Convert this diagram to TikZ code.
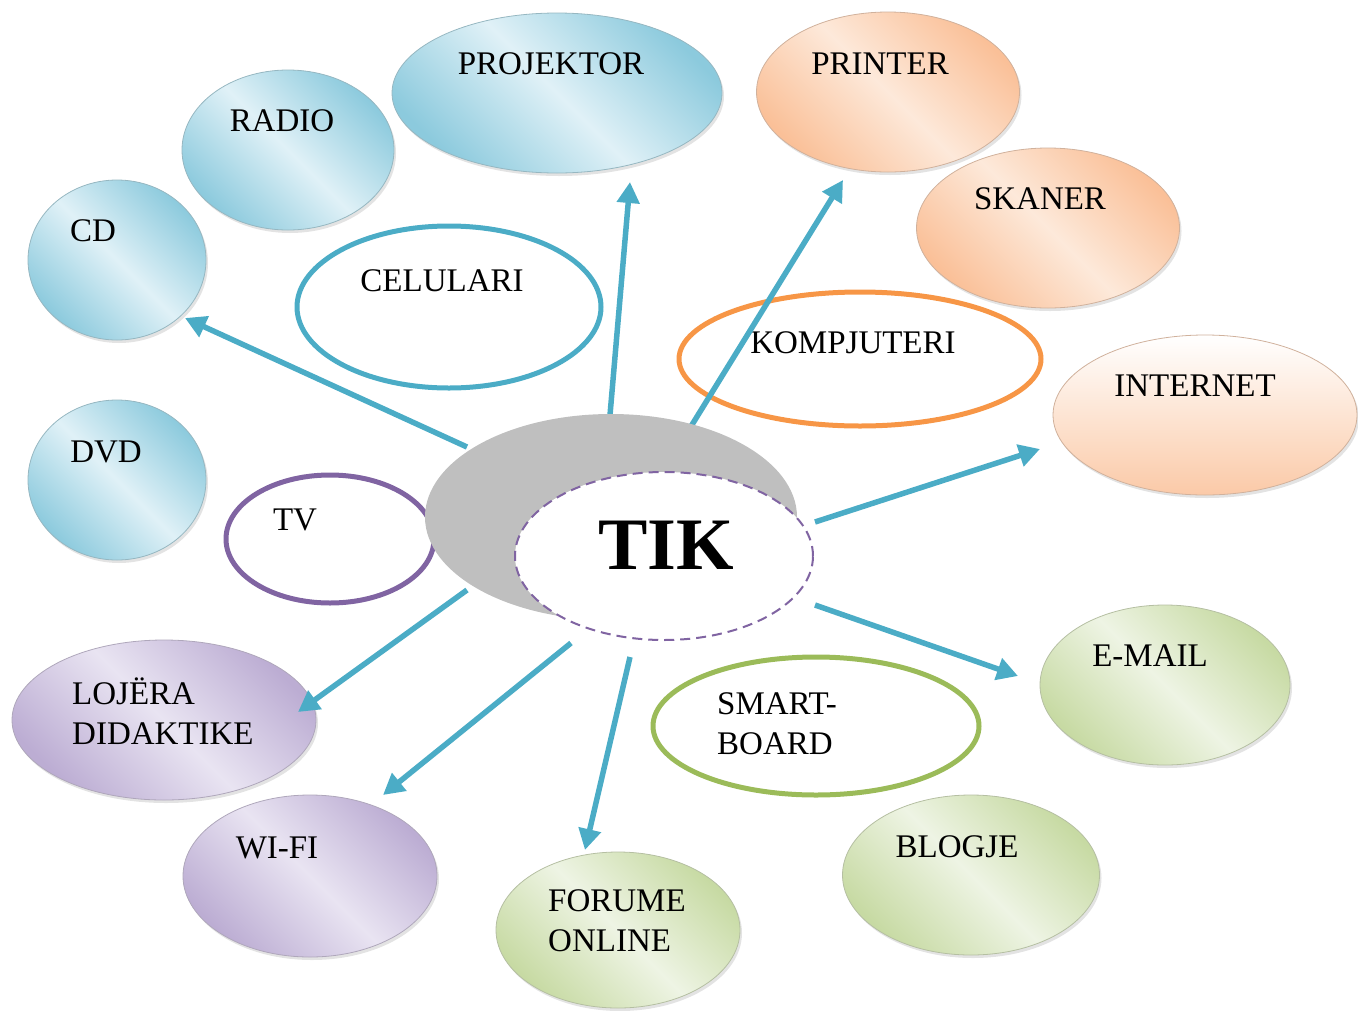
\documentclass[tikz,border=0pt]{standalone}
\usepackage{fontspec}
\setmainfont{Liberation Serif}
\usetikzlibrary{shapes.geometric,arrows.meta,shadows}
\definecolor{bluedge}{RGB}{140,202,221}
\definecolor{bluin}{RGB}{224,241,247}
\definecolor{orgedge}{RGB}{250,192,152}
\definecolor{orgin}{RGB}{253,233,218}
\definecolor{grnedge}{RGB}{199,218,163}
\definecolor{grnin}{RGB}{238,244,228}
\definecolor{purpedge}{RGB}{188,173,211}
\definecolor{purpin}{RGB}{233,228,242}
\definecolor{accblue}{RGB}{75,172,198}
\definecolor{accorange}{RGB}{247,150,70}
\definecolor{accgreen}{RGB}{155,187,89}
\definecolor{accpurple}{RGB}{128,100,162}
\definecolor{centergray}{RGB}{191,191,191}
\tikzset{
  bub/.style={ellipse, inner sep=0pt, draw=#1edge!75!black!70, line width=0.8pt,
    left color=#1edge, right color=#1edge, middle color=#1in, shading angle=135,
    drop shadow={opacity=0.22, shadow xshift=2pt, shadow yshift=-3pt}},
  ring/.style={ellipse, inner sep=0pt, draw=#1, line width=5pt},
  lbl/.style={inner sep=0pt, font=\fontsize{33}{40}\selectfont, text=black},
  arr/.style={draw=accblue, line width=5.5pt, -{Triangle[length=21pt,width=22pt]}},
}
\begin{document}
\begin{tikzpicture}[x=1pt,y=-1pt]
\useasboundingbox (0,0) rectangle (1358,1010);
% blue bubbles
\node[bub=blu, minimum width=330, minimum height=160] (proj) at (557,93) {};
\node[bub=blu, minimum width=212, minimum height=160] (radio) at (288,150) {};
\node[bub=blu, minimum width=178, minimum height=160] (cd) at (117,260) {};
\node[bub=blu, minimum width=178, minimum height=160] (dvd) at (117,480) {};
% orange bubbles
\node[bub=org, minimum width=263, minimum height=160] (printer) at (888,92) {};
\node[bub=org, minimum width=263, minimum height=160] (skaner) at (1048,228) {};
\node[ellipse, inner sep=0pt, draw=orgedge!75!black!70, line width=0.8pt,
  top color=white, bottom color=orgedge!85,
  drop shadow={opacity=0.22, shadow xshift=2pt, shadow yshift=-3pt},
  minimum width=304, minimum height=160] (internet) at (1205,415) {};
% green bubbles
\node[bub=grn, minimum width=250, minimum height=160] (email) at (1165,685) {};
\node[bub=grn, minimum width=257, minimum height=160] (blogje) at (971,875) {};
\node[bub=grn, minimum width=244, minimum height=156] (forume) at (618,930) {};
% purple bubbles
\node[bub=purp, minimum width=304, minimum height=160] (lojera) at (164,720) {};
\node[bub=purp, minimum width=254, minimum height=162] (wifi) at (310,876) {};
% outline rings
\node[ring=accblue, minimum width=304, minimum height=162] (celulari) at (449,307) {};
\node[ring=accorange, minimum width=362, minimum height=134] (kompjuteri) at (860,359) {};
\node[ring=accpurple, minimum width=208, minimum height=128] (tv) at (330,539) {};
\node[ring=accgreen, minimum width=326, minimum height=138] (smart) at (816,726) {};
% labels
\node[lbl] (tproj) at (551,64) {PROJEKTOR};
\node[lbl] (tradio) at (282,121) {RADIO};
\node[lbl] (tcd) at (93,231) {CD};
\node[lbl] (tdvd) at (106,452) {DVD};
\node[lbl] (tprinter) at (880,64) {PRINTER};
\node[lbl] (tskaner) at (1040,199) {SKANER};
\node[lbl] (tinternet) at (1195,386) {INTERNET};
\node[lbl] (temail) at (1150,656) {E-MAIL};
\node[lbl] (tblogje) at (957,847) {BLOGJE};
\node[lbl, align=left, anchor=west] (tforume) at (548,921) {FORUME\\ONLINE};
\node[lbl, align=left, anchor=west] (tlojera) at (72,711) {LOJËRA\\DIDAKTIKE};
\node[lbl] (twifi) at (277,848) {WI-FI};
\node[lbl] (tcelulari) at (442,281) {CELULARI};
\node[lbl] (tkompjuteri) at (853,343) {KOMPJUTERI};
\node[lbl] (ttv) at (295,520) {TV};
\node[lbl, align=left, anchor=west] (tsmart) at (717,724) {SMART-\\BOARD};
% arrow coordinates
\coordinate (s1) at (467,447); \coordinate (e1) at (185,318);
\coordinate (s2) at (610,415); \coordinate (e2) at (630,182);
\coordinate (s3) at (690,428); \coordinate (e3) at (843,180);
\coordinate (s4) at (815,522); \coordinate (e4) at (1040,449);
\coordinate (s5) at (815,605); \coordinate (e5) at (1018,676);
\coordinate (s6) at (630,657); \coordinate (e6) at (585,850);
\coordinate (s7) at (571,643); \coordinate (e7) at (383,795);
\coordinate (s8) at (467,590); \coordinate (e8) at (298,712);
\foreach \i in {1,...,8} { \draw[arr] (s\i) -- (e\i); }
% center
\node[ellipse, inner sep=0pt, fill=centergray, minimum width=372, minimum height=206] (grayback) at (611,517) {};
\node[ellipse, inner sep=0pt, fill=white, draw=accpurple, line width=2pt,
  dash pattern=on 10pt off 6pt, minimum width=298, minimum height=168] (tik) at (664,556) {};
\node[inner sep=0pt, font=\fontsize{74}{80}\selectfont\bfseries] (tiktext) at (666,545) {TIK};
\end{tikzpicture}
\end{document}
